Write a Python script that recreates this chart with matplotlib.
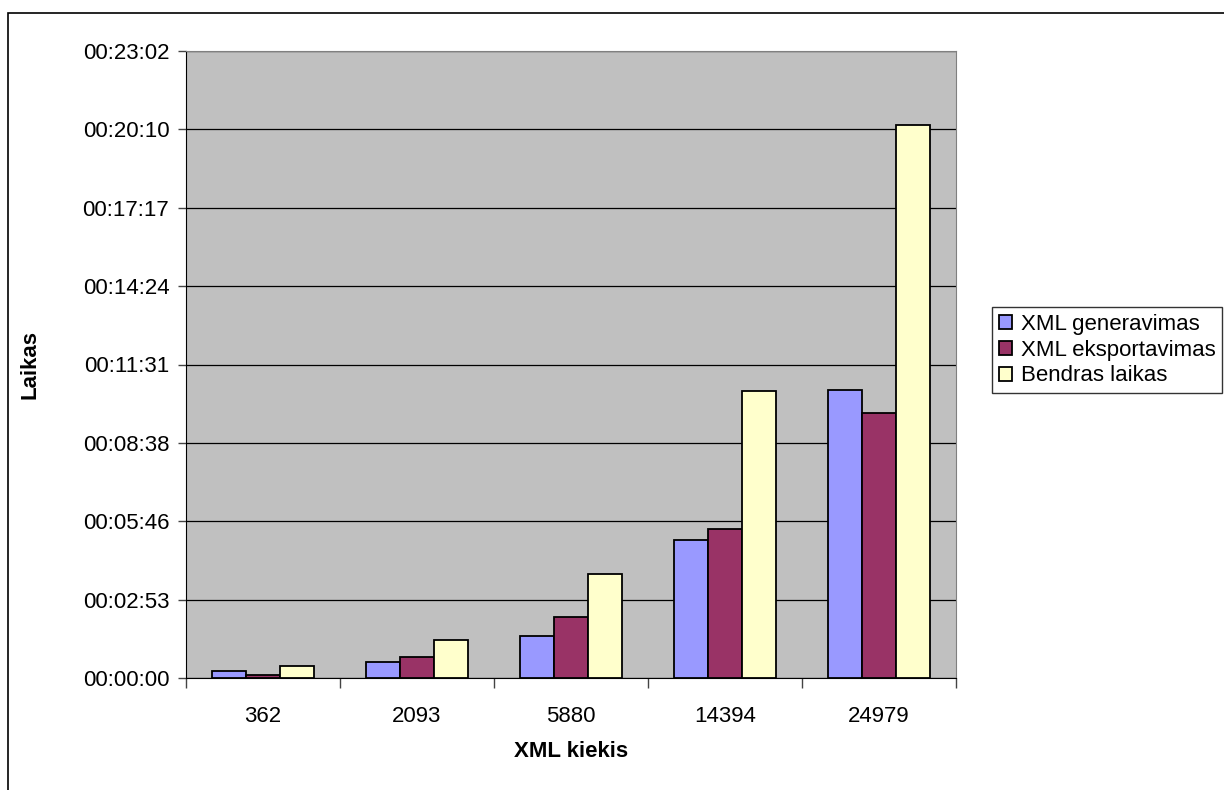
import numpy as np
import matplotlib.pyplot as plt
from matplotlib.patches import Rectangle
from matplotlib.ticker import FixedLocator, FuncFormatter

plt.rcParams['font.family'] = ['Liberation Sans', 'DejaVu Sans']

# XML count categories and times in seconds
kiekis = ['362', '2093', '5880', '14394', '24979']
generavimas = [15, 36, 92, 305, 635]
eksportavimas = [7, 47, 134, 329, 585]
bendras = [27, 83, 230, 632, 1220]

series = [
    ('XML generavimas', generavimas, '#9999FF'),
    ('XML eksportavimas', eksportavimas, '#993366'),
    ('Bendras laikas', bendras, '#FFFFCC'),
]


def hms(v, pos=None):
    s = int(round(v))
    return '%02d:%02d:%02d' % (s // 3600, (s % 3600) // 60, s % 60)


fig = plt.figure(figsize=(12.24, 7.9), dpi=100)
ax = fig.add_axes([186 / 1224, 1 - 678 / 790, 770 / 1224, 627 / 790])
ax.set_facecolor('#C0C0C0')

# outer chart border (runs off the right and bottom of the image)
fig.patches.append(Rectangle((8 / 1224, -0.05), 1.1, 1 - 13 / 790 + 0.05,
                             transform=fig.transFigure, fill=False,
                             edgecolor='black', linewidth=1.2, zorder=0))

x = np.arange(len(kiekis))
w = 1 / 4.5
for i, (name, vals, col) in enumerate(series):
    ax.bar(x + (i - 1) * w, vals, w, color=col, edgecolor='black',
           linewidth=1.3, label=name, zorder=3)

step = 172.8
ymax = step * 8
ax.set_ylim(0, ymax)
ax.set_xlim(-0.5, len(kiekis) - 0.5)
ax.yaxis.set_major_locator(FixedLocator(np.arange(0, 9) * step))
ax.yaxis.set_major_formatter(FuncFormatter(hms))
ax.grid(axis='y', color='black', linewidth=0.9, zorder=1)

ax.set_xticks(x)
ax.set_xticklabels(kiekis)
ax.set_xticks(np.arange(-0.5, len(kiekis)), minor=True)
ax.tick_params(axis='x', which='major', length=0, pad=20, labelsize=16)
ax.tick_params(axis='x', which='minor', length=7, width=1, color='#444444')
ax.tick_params(axis='y', length=6, width=1, color='#444444', pad=6,
               labelsize=16)

for side in ['top', 'right']:
    ax.spines[side].set_color('#808080')
for side in ['left', 'bottom']:
    ax.spines[side].set_color('black')

ax.set_xlabel('XML kiekis', fontsize=16, fontweight='bold', labelpad=10)
ax.set_ylabel('Laikas', fontsize=16, fontweight='bold', labelpad=30)

leg = ax.legend(loc='upper left', bbox_to_anchor=(992 / 1224, 1 - 307 / 790),
                bbox_transform=fig.transFigure, fontsize=16, frameon=True,
                fancybox=False, edgecolor='black', handlelength=0.6,
                handleheight=0.6, handletextpad=0.4, borderpad=0.3,
                labelspacing=0.22, borderaxespad=0)
leg.get_frame().set_linewidth(1.0)

fig.savefig('out.png', dpi=100)
